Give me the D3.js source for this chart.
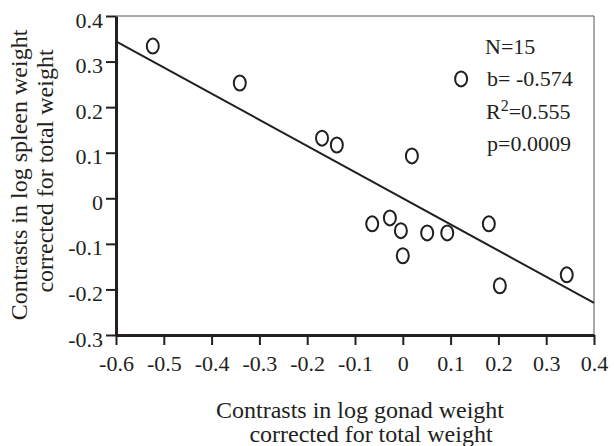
<!DOCTYPE html>
<html>
<head>
<meta charset="utf-8">
<script src="https://cdn.jsdelivr.net/npm/d3@7/dist/d3.min.js"></script>
<style>
  html, body { margin: 0; padding: 0; background: #fff; }
  svg { display: block; }
  svg text { font-family: "Liberation Serif", "Times New Roman", Times, serif !important; fill: #231f20; }
</style>
</head>
<body>
<svg id="chart" width="614" height="446"></svg>
<script>
// ---- data ----
const gonadContrast = [-0.523, -0.341, -0.169, -0.138, 0.122, 0.019, -0.064, -0.027, -0.004, 0.000, 0.051, 0.093, 0.180, 0.203, 0.343];
const spleenContrast = [0.334, 0.253, 0.132, 0.117, 0.262, 0.093, -0.056, -0.043, -0.071, -0.126, -0.076, -0.076, -0.056, -0.192, -0.168];
const xTicks = [-0.6, -0.5, -0.4, -0.3, -0.2, -0.1, 0, 0.1, 0.2, 0.3, 0.4];
const yTicks = [-0.3, -0.2, -0.1, 0, 0.1, 0.2, 0.3, 0.4];
const fitSlope = -0.574;
const fitIntercept = 0.0;
const statLabels = ["N=15", "b= -0.574", "R2=0.555", "p=0.0009"];
const xTitleLines = ["Contrasts in log gonad weight", "corrected for total weight"];
const yTitleLines = ["Contrasts in log spleen weight", "corrected for total weight"];

// ---- layout ----
const serif = '"Liberation Serif", "Times New Roman", Times, serif';
const svg = d3.select("#chart");
const L = 116, R = 594, T = 16, B = 335;
const x = d3.scaleLinear().domain([-0.6, 0.4]).range([L, R]);
const y = d3.scaleLinear().domain([-0.3, 0.4]).range([B, T]);
const fmt = d => d === 0 ? "0" : String(d);

// top & right frame
svg.append("line").attr("x1", L).attr("x2", R).attr("y1", T).attr("y2", T)
  .attr("stroke", "#555").attr("stroke-width", 1);
svg.append("line").attr("x1", R).attr("x2", R).attr("y1", T).attr("y2", B)
  .attr("stroke", "#555").attr("stroke-width", 1);

// axes
const gx = svg.append("g").attr("transform", `translate(0,${B})`)
  .call(d3.axisBottom(x).tickValues(xTicks).tickFormat(fmt).tickSize(10).tickSizeOuter(0).tickPadding(9));
const gy = svg.append("g").attr("transform", `translate(${L},0)`)
  .call(d3.axisLeft(y).tickValues(yTicks).tickFormat(fmt).tickSize(10).tickSizeOuter(0).tickPadding(3));
[gx, gy].forEach(g => {
  g.attr("font-family", null).attr("font-size", null);
  g.select(".domain").attr("stroke", "#231f20").attr("stroke-width", 3);
  g.selectAll(".tick line").attr("stroke", "#231f20").attr("stroke-width", 2);
  g.selectAll(".tick text").style("font-family", serif).style("font-size", "22px").attr("fill", "#231f20");
});
gy.selectAll(".tick text").attr("dy", "0.5em");
gx.selectAll(".tick text").attr("dy", "0.75em");

// regression line
const lineX = x.domain();
svg.append("line")
  .attr("x1", x(lineX[0])).attr("y1", y(fitIntercept + fitSlope * lineX[0]))
  .attr("x2", x(lineX[1])).attr("y2", y(fitIntercept + fitSlope * lineX[1]))
  .attr("stroke", "#231f20").attr("stroke-width", 2);

// points
svg.append("g").selectAll("ellipse")
  .data(gonadContrast.map((g, i) => [g, spleenContrast[i]]))
  .join("ellipse")
  .attr("cx", d => x(d[0])).attr("cy", d => y(d[1]))
  .attr("rx", 6).attr("ry", 7.5)
  .attr("fill", "none").attr("stroke", "#231f20").attr("stroke-width", 2);

// stats
const statY = [54, 86, 119, 151];
const statX = [485, 487, 486, 487];
statLabels.forEach((s, i) => {
  const t = svg.append("text").attr("x", statX[i]).attr("y", statY[i]).style("font-size", "22px");
  if (s.startsWith("R2")) {
    t.append("tspan").text("R");
    t.append("tspan").style("font-size", "16px").attr("dy", -8).text("2");
    t.append("tspan").attr("dy", 8).text(s.slice(2));
  } else {
    t.text(s);
  }
});

// axis titles
svg.append("text").attr("x", 360).attr("y", 418).attr("text-anchor", "middle")
  .style("font-size", "24px").text(xTitleLines[0]);
svg.append("text").attr("x", 371).attr("y", 442).attr("text-anchor", "middle")
  .style("font-size", "24px").text(xTitleLines[1]);
svg.append("text").attr("transform", "translate(27,175) rotate(-90)").attr("text-anchor", "middle")
  .style("font-size", "24px").text(yTitleLines[0]);
svg.append("text").attr("transform", "translate(53,171) rotate(-90)").attr("text-anchor", "middle")
  .style("font-size", "24px").text(yTitleLines[1]);
</script>
</body>
</html>
